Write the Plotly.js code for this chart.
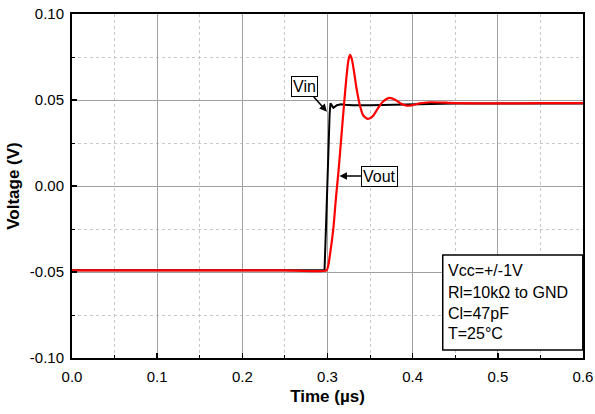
<!DOCTYPE html>
<html>
<head>
<meta charset="utf-8">
<script src="https://cdn.plot.ly/plotly-3.0.1.min.js"></script>
<style>html,body{margin:0;padding:0;background:#fff;}#chart{width:595px;height:414px;}</style>
</head>
<body>
<div id="chart"></div>
<script>
// Vin (black) trace
const vinTime = [0, 0.05, 0.1, 0.15, 0.2, 0.25, 0.29, 0.2965, 0.2985, 0.3005, 0.3025, 0.3035, 0.307, 0.311, 0.316, 0.320, 0.33, 0.35, 0.38, 0.42, 0.45, 0.5, 0.55, 0.6];
const vinVolt = [-0.049, -0.049, -0.049, -0.049, -0.049, -0.049, -0.049, -0.049, -0.02, 0.015, 0.042, 0.048, 0.0455, 0.047, 0.0475, 0.0473, 0.047, 0.047, 0.0473, 0.0478, 0.048, 0.048, 0.048, 0.048];

// Vout (red) trace
const voutTime = [0, 0.05, 0.1, 0.15, 0.2, 0.25, 0.299, 0.301, 0.304, 0.307, 0.310, 0.313, 0.316, 0.319, 0.322, 0.3245, 0.3265, 0.3285, 0.331, 0.334, 0.338, 0.342, 0.3475, 0.353, 0.359, 0.365, 0.3725, 0.380, 0.386, 0.393, 0.400, 0.408, 0.42, 0.45, 0.5, 0.55, 0.6];
const voutVolt = [-0.049, -0.049, -0.049, -0.049, -0.049, -0.049, -0.049, -0.046, -0.036, -0.024, -0.0065, 0.009, 0.027, 0.045, 0.062, 0.073, 0.0762, 0.074, 0.067, 0.057, 0.047, 0.041, 0.039, 0.0405, 0.045, 0.049, 0.0512, 0.050, 0.048, 0.0467, 0.047, 0.048, 0.0487, 0.0482, 0.048, 0.0482, 0.0482];

// Axis ticks
const xTicks = [0, 0.1, 0.2, 0.3, 0.4, 0.5, 0.6];
const xTickText = ["0.0", "0.1", "0.2", "0.3", "0.4", "0.5", "0.6"];
const yTicks = [-0.10, -0.05, 0.00, 0.05, 0.10];
const yTickText = ["-0.10", "-0.05", "0.00", "0.05", "0.10"];

// Conditions text
const conditions = ["Vcc=+/-1V", "Rl=10kΩ to GND", "Cl=47pF", "T=25°C"];

const FONT = "Liberation Sans, Arial, sans-serif";

const traces = [
  {x: vinTime, y: vinVolt, mode: "lines", line: {color: "#000000", width: 2}, name: "Vin", showlegend: false, hoverinfo: "skip"},
  {x: voutTime, y: voutVolt, mode: "lines", line: {color: "#ff0000", width: 2.2, shape: "spline", smoothing: 0.6}, name: "Vout", showlegend: false, hoverinfo: "skip"}
];

const annotations = [
  {x: 0.2993, y: 0.0432, xref: "x", yref: "y", text: "Vin", showarrow: true, ax: -22, ay: -25,
   arrowhead: 2, arrowsize: 1, arrowwidth: 1.5, arrowcolor: "#000", font: {family: FONT, size: 16, color: "#000"},
   bgcolor: "#fff", bordercolor: "#000", borderwidth: 1, borderpad: 1},
  {x: 0.314, y: 0.0058, xref: "x", yref: "y", text: "Vout", showarrow: true, ax: 40, ay: 0,
   arrowhead: 2, arrowsize: 1, arrowwidth: 1.5, arrowcolor: "#000", font: {family: FONT, size: 16, color: "#000"},
   bgcolor: "#fff", bordercolor: "#000", borderwidth: 1, borderpad: 1}
];
const lineY = [0.2558, 0.191, 0.130, 0.0718];
conditions.forEach((t, i) => {
  annotations.push({x: 0.731, y: lineY[i], xref: "paper", yref: "paper", text: t, showarrow: false,
    xanchor: "left", yanchor: "middle", font: {family: FONT, size: 16, color: "#000"}});
});

const layout = {
  width: 595, height: 414,
  margin: {l: 71.7, r: 11.5, t: 14, b: 56},
  paper_bgcolor: "#fff", plot_bgcolor: "#fff",
  font: {family: FONT, size: 15, color: "#000"},
  showlegend: false,
  xaxis: {
    range: [0, 0.6], tickvals: xTicks, ticktext: xTickText,
    showline: true, linecolor: "#000", linewidth: 2, mirror: true,
    ticks: "inside", ticklen: 5, tickwidth: 1.5, tickcolor: "#000",
    showgrid: true, gridcolor: "#a0a0a0", gridwidth: 1, zeroline: false,
    minor: {dtick: 0.05, tick0: 0, ticks: "inside", ticklen: 3, tickwidth: 1, tickcolor: "#000", showgrid: true, gridcolor: "#c8c8c8", griddash: "dot", gridwidth: 1},
    tickfont: {family: FONT, size: 15}, ticklabelstandoff: 4,
    title: {text: "<b>Time (µs)</b>", font: {family: FONT, size: 17}, standoff: 6}
  },
  yaxis: {
    range: [-0.10, 0.10], tickvals: yTicks, ticktext: yTickText,
    showline: true, linecolor: "#000", linewidth: 2, mirror: true,
    ticks: "inside", ticklen: 5, tickwidth: 1.5, tickcolor: "#000",
    showgrid: true, gridcolor: "#a0a0a0", gridwidth: 1, zeroline: false,
    minor: {dtick: 0.025, tick0: 0, ticks: "inside", ticklen: 3, tickwidth: 1, tickcolor: "#000", showgrid: true, gridcolor: "#c8c8c8", griddash: "dot", gridwidth: 1},
    tickfont: {family: FONT, size: 15}, ticklabelstandoff: 3,
    title: {text: "<b>Voltage (V)</b>", font: {family: FONT, size: 17}, standoff: 6}
  },
  shapes: [
    {type: "rect", xref: "paper", yref: "paper", x0: 0.7255, x1: 0.9996, y0: 0.0233, y1: 0.2994,
     line: {color: "#000", width: 1.5}, fillcolor: "#fff", layer: "above"}
  ],
  annotations: annotations
};

Plotly.newPlot("chart", traces, layout, {staticPlot: true, displayModeBar: false});
</script>
</body>
</html>
